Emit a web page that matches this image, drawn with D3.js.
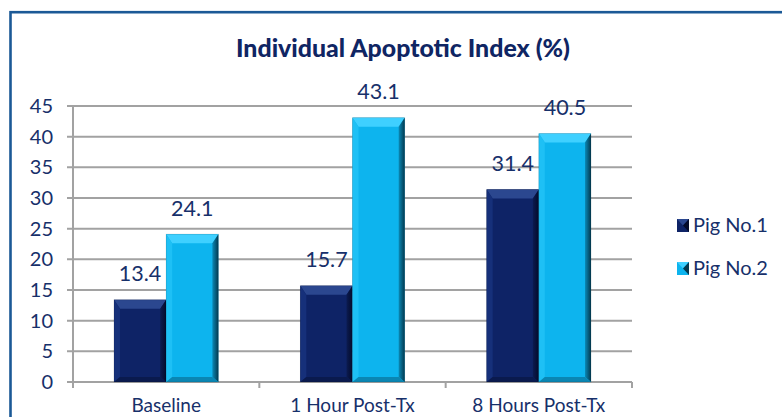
<!DOCTYPE html>
<html><head><meta charset="utf-8">
<script src="https://cdn.jsdelivr.net/npm/d3@7"></script>
<style>
html,body{margin:0;padding:0;background:#fff;overflow:hidden}
text{font-family:Lato,"Open Sans",sans-serif}
</style></head>
<body><svg id="c" width="782" height="417"></svg>
<script>
const categories = ["Baseline","1 Hour Post-Tx","8 Hours Post-Tx"];
const seriesNames = ["Pig No.1","Pig No.2"];
const pig1 = [13.4, 15.7, 31.4];
const pig2 = [24.1, 43.1, 40.5];
const yTicks = [0,5,10,15,20,25,30,35,40,45];
const title = "Individual Apoptotic Index (%)";

const W=782,H=417;
const svg=d3.select("#c");
const textColor="#17306a";
const palettes=[
 {face:"#0e2366",top:"#2b478f",left:"#16307a",right:"#040b2a",bottom:"#0a1a4e"},
 {face:"#0db4ee",top:"#3fd0ff",left:"#1ec0f5",right:"#03394f",bottom:"#0a86b3"}
];
const defs=svg.append("defs");
palettes.forEach((p,i)=>{
  const g=defs.append("linearGradient").attr("id","rg"+i).attr("x1",0).attr("x2",1).attr("y1",0).attr("y2",0);
  g.append("stop").attr("offset","0%").attr("stop-color",d3.interpolateRgb(p.face,p.right)(0.35));
  g.append("stop").attr("offset","100%").attr("stop-color",p.right);
});

// frame
svg.append("rect").attr("x",10.5).attr("y",12.2).attr("width",900).attr("height",600)
  .attr("fill","none").attr("stroke","#1b5996").attr("stroke-width",2.6);

const x=d3.scaleBand().domain(categories).range([73,632]).paddingInner(0).paddingOuter(0);
const bw=x.bandwidth();
const xs=d3.scaleBand().domain(seriesNames).range([bw*0.22,bw*0.78]).padding(0);
const y=d3.scaleLinear().domain([0,45]).range([382,106]);

// gridlines
svg.append("g").selectAll("line").data(yTicks).join("line")
  .attr("x1",67).attr("x2",632).attr("y1",d=>y(d)).attr("y2",d=>y(d))
  .attr("stroke","#a2a2a2").attr("stroke-width",2);
// y axis line
svg.append("line").attr("x1",73).attr("x2",73).attr("y1",y(45)).attr("y2",388)
  .attr("stroke","#a2a2a2").attr("stroke-width",2);
// category ticks
const bounds=categories.map(c=>x(c)).concat([x(categories[2])+bw]);
svg.append("g").selectAll("line").data(bounds.slice(1)).join("line")
  .attr("x1",d=>d).attr("x2",d=>d).attr("y1",y(0)).attr("y2",388)
  .attr("stroke","#a2a2a2").attr("stroke-width",2);

// y labels
svg.append("g").selectAll("text").data(yTicks).join("text")
  .attr("x",53).attr("y",d=>y(d)+7).attr("text-anchor","end")
  .attr("font-size",20).attr("fill",textColor).text(d=>d);

// bars
const data=[];
categories.forEach((c,i)=>{
  data.push({c,s:seriesNames[0],v:pig1[i],k:0});
  data.push({c,s:seriesNames[1],v:pig2[i],k:1});
});
function bevelBar(g,x0,y0,w,h,p,gi){
  const bt=9, bs=6, bb=5;
  g.append("rect").attr("x",x0).attr("y",y0).attr("width",w).attr("height",h).attr("fill",p.face);
  const pts=a=>a.map(q=>q.join(",")).join(" ");
  g.append("polygon").attr("points",pts([[x0,y0],[x0+w,y0],[x0+w-bs,y0+bt],[x0+bs,y0+bt]])).attr("fill",p.top);
  g.append("polygon").attr("points",pts([[x0,y0],[x0+bs,y0+bt],[x0+bs,y0+h-bb],[x0,y0+h]])).attr("fill",p.left);
  g.append("polygon").attr("points",pts([[x0+w,y0],[x0+w,y0+h],[x0+w-bs,y0+h-bb],[x0+w-bs,y0+bt]])).attr("fill","url(#rg"+gi+")");
  g.append("polygon").attr("points",pts([[x0,y0+h],[x0+bs,y0+h-bb],[x0+w-bs,y0+h-bb],[x0+w,y0+h]])).attr("fill",p.bottom);
  g.append("rect").attr("x",x0).attr("y",y0).attr("width",w).attr("height",h).attr("fill","none")
    .attr("stroke","#000").attr("stroke-opacity",0.15).attr("stroke-width",0.8);
}
const bars=svg.append("g");
data.forEach(d=>{
  const bx=x(d.c)+xs(d.s), by=y(d.v), bh=y(0)-y(d.v);
  bevelBar(bars.append("g"),bx,by,xs.bandwidth(),bh,palettes[d.k],d.k);
});
// value labels
svg.append("g").selectAll("text").data(data).join("text")
  .attr("x",d=>x(d.c)+xs(d.s)+xs.bandwidth()/2).attr("y",d=>y(d.v)-18.5)
  .attr("text-anchor","middle").attr("font-size",21.5).attr("fill",textColor)
  .text(d=>d.v.toFixed(1));

// category labels
svg.append("g").selectAll("text").data(categories).join("text")
  .attr("x",d=>x(d)+bw/2).attr("y",412).attr("text-anchor","middle")
  .attr("font-size",19).attr("fill",textColor).text(d=>d);

// title
svg.append("text").attr("x",403).attr("y",57).attr("text-anchor","middle")
  .attr("font-size",25).attr("font-weight","900").attr("fill","#0f2563")
  .attr("textLength",334).attr("lengthAdjust","spacingAndGlyphs").text(title);

// legend
const lg=svg.append("g");
seriesNames.forEach((s,i)=>{
  const ly=219+i*43;
  const p=palettes[i];
  lg.append("rect").attr("x",677).attr("y",ly).attr("width",12).attr("height",13).attr("fill",p.face);
  lg.append("polygon").attr("points",`677,${ly} 689,${ly} 683,${ly+6.5}`).attr("fill",p.top);
  lg.append("polygon").attr("points",`689,${ly} 689,${ly+13} 683,${ly+6.5}`).attr("fill",p.right);
  lg.append("text").attr("x",693).attr("y",ly+13).attr("font-size",20).attr("fill",textColor).text(s);
});
</script></body></html>
